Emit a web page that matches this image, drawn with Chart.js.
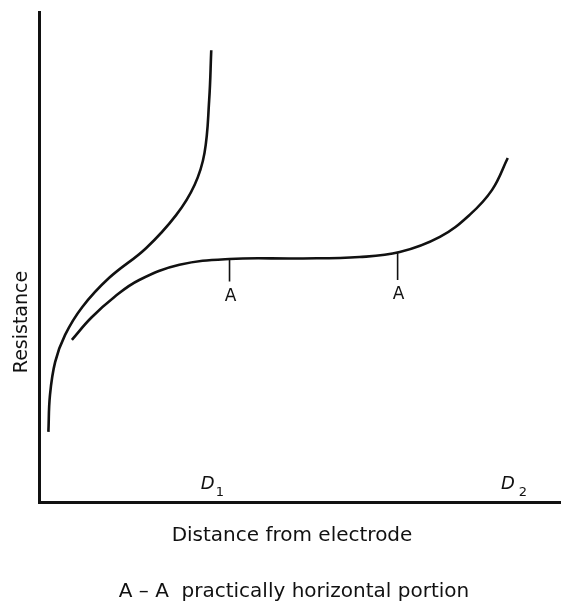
<!DOCTYPE html>
<html>
<head>
<meta charset="utf-8">
<script src="https://cdn.jsdelivr.net/npm/chart.js@4/dist/chart.umd.min.js"></script>
<style>
  html, body { margin: 0; padding: 0; background: #fff; }
  #wrap { width: 561px; height: 606px; }
</style>
</head>
<body>
<div id="wrap"><canvas id="resistance-chart" width="561" height="606"></canvas></div>
<script>
const ink = "#111";
const fontName = '"DejaVu Sans", sans-serif';

// curve rising steeply towards D1
const distanceSteep = [1.8, 2.1, 3.1, 5.0, 8.3, 13.4, 20.5, 26.3, 29.8, 31.7, 32.6, 33.0];
const resistanceSteep = [14.3, 21.8, 28.6, 34.1, 39.8, 45.7, 51.8, 58.6, 64.7, 71.2, 82.0, 92.2];

// curve with the flat A - A portion, rising towards D2
const distanceFlat = [6.3, 10.0, 14.5, 19.2, 26.9, 36.5, 49.9, 61.4, 69.1, 76.8, 82.5, 86.8, 89.8];
const resistanceFlat = [33.1, 37.6, 41.9, 45.3, 48.4, 49.6, 49.7, 50.0, 51.0, 54.1, 58.6, 63.7, 70.2];

// short vertical marks under the flat portion, labelled A
const markDistance = [36.5, 68.7];
const markTop = [49.6, 50.8];
const markBottom = [45.0, 45.3];

// D1 / D2 labels along the distance axis
const dLabels = ["1", "2"];
const dDistance = [31.0, 88.5];

const xTitle = "Distance from electrode";
const yTitle = "Resistance";
const note = "A \u2013 A  practically horizontal portion";

function toPoints(xs, ys) {
   return xs.map((v, i) => ({ x: v, y: ys[i] }));
}

const curveStyle = {
   borderColor: ink,
   borderWidth: 2.6,
   pointRadius: 0,
   fill: false,
   tension: 0.4
};

const markSets = markDistance.map((d, i) => ({
   data: [{ x: d, y: markTop[i] }, { x: d, y: markBottom[i] }],
   borderColor: ink,
   borderWidth: 1.6,
   pointRadius: 0,
   fill: false
}));

const textPlugin = {
   id: "textLabels",
   afterDraw(chart) {
      const { ctx, scales: { x, y } } = chart;
      ctx.save();
      ctx.fillStyle = ink;
      ctx.textBaseline = "alphabetic";

      // A labels under the marks
      ctx.font = "17px " + fontName;
      ctx.textAlign = "center";
      markDistance.forEach((d, i) => {
         ctx.fillText("A", x.getPixelForValue(d) + 1, y.getPixelForValue(markBottom[i]) + 19);
      });

      // D1, D2
      dLabels.forEach((sub, i) => {
         const px = x.getPixelForValue(dDistance[i]);
         ctx.textAlign = "left";
         ctx.font = "italic 18px " + fontName;
         ctx.fillText("D", px, 489);
         const w = ctx.measureText("D").width;
         ctx.font = "13px " + fontName;
         ctx.fillText(sub, px + w + (i === 1 ? 4 : 1), 496);
      });

      // axis titles and note
      ctx.textAlign = "center";
      ctx.font = "20px " + fontName;
      ctx.fillText(xTitle, 292, 541);
      ctx.fillText(note, 294, 597);

      ctx.translate(27, 322);
      ctx.rotate(-Math.PI / 2);
      ctx.font = "19px " + fontName;
      ctx.fillText(yTitle, 0, 0);
      ctx.restore();
   }
};

let resistanceChart = new Chart("resistance-chart", {
   type: "line",
   data: {
      datasets: [
         Object.assign({ data: toPoints(distanceSteep, resistanceSteep) }, curveStyle),
         Object.assign({ data: toPoints(distanceFlat, resistanceFlat) }, curveStyle),
         ...markSets
      ]
   },
   options: {
      responsive: false,
      animation: false,
      layout: {
         padding: { left: 39, right: 0, top: 12, bottom: 104 }
      },
      plugins: {
         legend: { display: false },
         tooltip: { enabled: false }
      },
      scales: {
         x: {
            type: "linear",
            min: 0,
            max: 100,
            grid: { display: false, drawTicks: false },
            ticks: { display: false },
            border: { display: true, color: ink, width: 3 }
         },
         y: {
            type: "linear",
            min: 0,
            max: 100,
            grid: { display: false, drawTicks: false },
            ticks: { display: false },
            border: { display: true, color: ink, width: 3 }
         }
      }
   },
   plugins: [textPlugin]
});
</script>
</body>
</html>
